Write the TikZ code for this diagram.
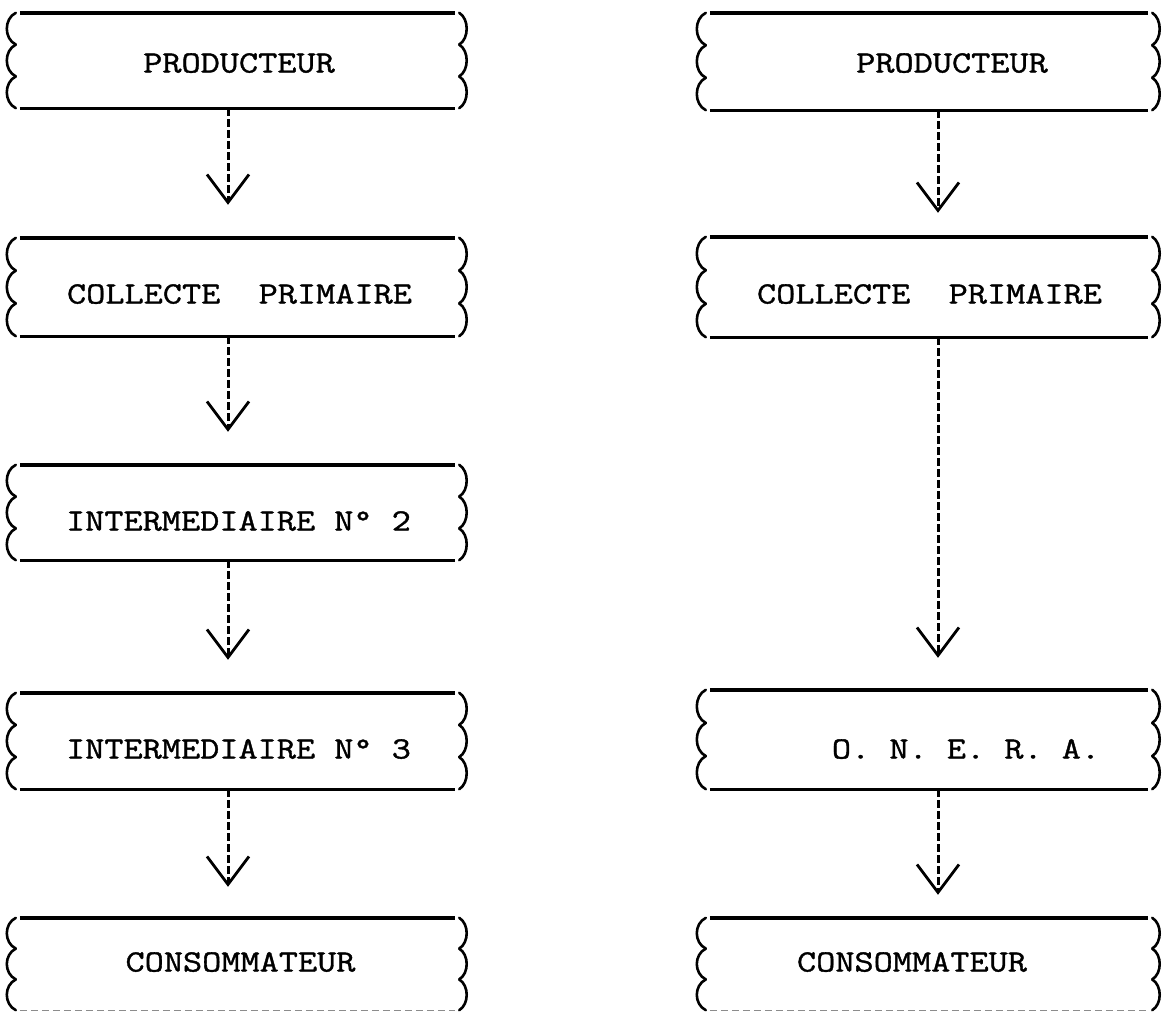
\documentclass[tikz,border=0pt]{standalone}
\usepackage{fontspec}
\setmonofont{Latin Modern Mono}[FakeStretch=1.2, FakeBold=1.2]
\usetikzlibrary{arrows.meta,calc}
\tikzset{
  wbox/.style={rectangle, draw=none, inner sep=0pt},
  lbl/.style={font=\ttfamily\fontsize{31}{31}\selectfont, inner sep=0pt, text height=19pt, text depth=0pt},
  topline/.style={line width=3.4pt},
  botline/.style={line width=2.9pt},
  faintline/.style={line width=1.4pt, black!45, dash pattern=on 7pt off 4pt},
  brace/.style={line width=2.6pt, line cap=round},
  conn/.style={line width=3pt, dash pattern=on 8pt off 3pt, -{Straight Barb[length=28pt,width=42pt,line width=2.8pt]}},
}
\newcommand\wavybox[2][botline]{%
  \draw[topline] (#2.north west) -- (#2.north east);
  \draw[#1] (#2.south west) -- (#2.south east);
  \foreach \ta/\tb in {0/0.3333,0.3333/0.6667,0.6667/1}{%
    \draw[brace] ($(#2.north west)!\ta!(#2.south west)+(-4,0)$) .. controls +(-12,6) and +(-12,-6) .. ($(#2.north west)!\tb!(#2.south west)+(-4,0)$);
    \draw[brace] ($(#2.north east)!\ta!(#2.south east)+(4,0)$) .. controls +(10,6) and +(10,-6) .. ($(#2.north east)!\tb!(#2.south east)+(4,0)$);
  }}
\begin{document}
\begin{tikzpicture}[x=1pt,y=-1pt]
\useasboundingbox (0,0) rectangle (1167,1013);
% left column boxes
\node[wbox, minimum width=435pt, minimum height=95pt] (L1) at (237.5,60.5) {};
\node[wbox, minimum width=435pt, minimum height=98pt] (L2) at (237.5,287) {};
\node[wbox, minimum width=435pt, minimum height=95pt] (L3) at (237.5,512.5) {};
\node[wbox, minimum width=435pt, minimum height=96pt] (L4) at (237.5,741) {};
\node[wbox, minimum width=435pt, minimum height=92pt] (L5) at (237.5,964) {};
% right column boxes
\node[wbox, minimum width=438pt, minimum height=97pt] (R1) at (929,61.5) {};
\node[wbox, minimum width=438pt, minimum height=100pt] (R2) at (929,287) {};
\node[wbox, minimum width=438pt, minimum height=99pt] (R4) at (929,739.5) {};
\node[wbox, minimum width=438pt, minimum height=92pt] (R5) at (929,964) {};
\wavybox{L1}\wavybox{L2}\wavybox{L3}\wavybox{L4}\wavybox[faintline]{L5}
\wavybox{R1}\wavybox{R2}\wavybox{R4}\wavybox[faintline]{R5}
% labels
\node[lbl] (L1t) at (239,63) {PRODUCTEUR};
\node[lbl] (L2t) at (239.5,294) {COLLECTE~~PRIMAIRE};
\node[lbl] (L3t) at (238.5,521) {INTERMEDIAIRE N° 2};
\node[lbl] (L4t) at (238.5,749) {INTERMEDIAIRE N° 3};
\node[lbl] (L5t) at (240.5,962) {CONSOMMATEUR};
\node[lbl] (R1t) at (952,63) {PRODUCTEUR};
\node[lbl] (R2t) at (929.5,294) {COLLECTE~~PRIMAIRE};
\node[lbl] (R4t) at (966,749) {O. N. E. R. A.};
\node[lbl] (R5t) at (912,962) {CONSOMMATEUR};
% connectors
\draw[conn, shorten >=33pt] ([xshift=-9.5pt]L1.south) -- ([xshift=-9.5pt]L2.north);
\draw[conn, shorten >=33pt] ([xshift=-9.5pt]L2.south) -- ([xshift=-9.5pt]L3.north);
\draw[conn, shorten >=33pt] ([xshift=-9.5pt]L3.south) -- ([xshift=-9.5pt]L4.north);
\draw[conn, shorten >=31pt] ([xshift=-9.5pt]L4.south) -- ([xshift=-9.5pt]L5.north);
\draw[conn, shorten >=24pt] ([xshift=9pt]R1.south) -- ([xshift=9pt]R2.north);
\draw[conn, shorten >=32pt] ([xshift=9pt]R2.south) -- ([xshift=9pt]R4.north);
\draw[conn, shorten >=23pt] ([xshift=9pt]R4.south) -- ([xshift=9pt]R5.north);
\end{tikzpicture}
\end{document}
